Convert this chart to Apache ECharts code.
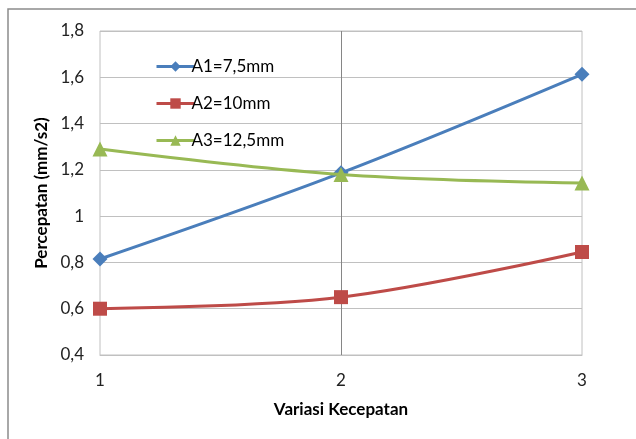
<!DOCTYPE html>
<html>
<head>
<meta charset="utf-8">
<script src="https://cdn.jsdelivr.net/npm/echarts@6/dist/echarts.min.js"></script>
<style>
  html, body { margin: 0; padding: 0; background: #fff; }
  #chart { width: 636px; height: 439px; }
</style>
</head>
<body>
<div id="chart"></div>
<script>
// Speed variations on the x axis
const speedLevels = [1, 2, 3];
// Acceleration per plate width (mm/s2)
const seriesNames = ['A1=7,5mm', 'A2=10mm', 'A3=12,5mm'];
const a1Values = [0.815, 1.187, 1.613];
const a2Values = [0.600, 0.650, 0.845];
const a3Values = [1.290, 1.180, 1.143];
const seriesColors = ['#4a7ebb', '#be4b48', '#98b954'];
const seriesSymbols = ['diamond', 'rect', 'triangle'];
const symbolSizes = [15, 14, 15];

const valuesList = [a1Values, a2Values, a3Values];
const fontFamily = 'Lato, "Open Sans", sans-serif';
const fmt = v => String(Math.round(v * 10) / 10).replace('.', ',');

const chart = echarts.init(document.getElementById('chart'), null, { renderer: 'canvas' });

const series = seriesNames.map((name, i) => ({
  name: name,
  type: 'line',
  smooth: 0.35,
  data: speedLevels.map((x, j) => [x, valuesList[i][j]]),
  symbol: seriesSymbols[i],
  symbolSize: symbolSizes[i],
  lineStyle: { color: seriesColors[i], width: 3 },
  itemStyle: { color: seriesColors[i] },
  z: 3 + i,
  markLine: i === 0 ? {
    silent: true,
    symbol: 'none',
    label: { show: false },
    lineStyle: { color: '#868686', width: 1, type: 'solid' },
    data: [{ xAxis: 2 }],
    z: 1
  } : undefined
}));

chart.setOption({
  animation: false,
  backgroundColor: '#fff',
  graphic: [{
    type: 'rect',
    shape: { x: 8, y: 9, width: 700, height: 500 },
    style: { fill: 'none', stroke: '#8c8c8c', lineWidth: 1.5 },
    silent: true,
    z: -10
  }],
  grid: {
    left: 100, top: 31, right: 54, bottom: 84,
    show: true, borderColor: '#c0c0c0', borderWidth: 1
  },
  legend: {
    orient: 'vertical',
    left: 150, top: 53,
    itemWidth: 38, itemHeight: 13,
    itemGap: 20,
    data: seriesNames,
    lineStyle: { width: 3 },
    textStyle: { fontFamily: fontFamily, fontSize: 17, color: '#000', padding: [0, 0, 0, -8] }
  },
  xAxis: {
    type: 'value',
    min: 1, max: 3, interval: 1,
    name: 'Variasi Kecepatan',
    nameLocation: 'middle',
    nameGap: 46,
    nameTextStyle: { fontFamily: fontFamily, fontSize: 17, fontWeight: 'bold', color: '#000' },
    axisLine: { show: true, lineStyle: { color: '#c0c0c0' } },
    axisTick: { show: false },
    splitLine: { show: false },
    axisLabel: { fontFamily: fontFamily, fontSize: 17, color: '#222', margin: 17 }
  },
  yAxis: {
    type: 'value',
    min: 0.4, max: 1.8, interval: 0.2,
    name: 'Percepatan (mm/s2)',
    nameLocation: 'middle',
    nameGap: 43,
    nameTextStyle: { fontFamily: fontFamily, fontSize: 17, fontWeight: 'bold', color: '#000' },
    axisLine: { show: false },
    axisTick: { show: false },
    splitLine: { show: true, lineStyle: { color: '#c0c0c0', width: 1 } },
    axisLabel: { fontFamily: fontFamily, fontSize: 17, color: '#222', margin: 16, formatter: fmt }
  },
  series: series
});
</script>
</body>
</html>
